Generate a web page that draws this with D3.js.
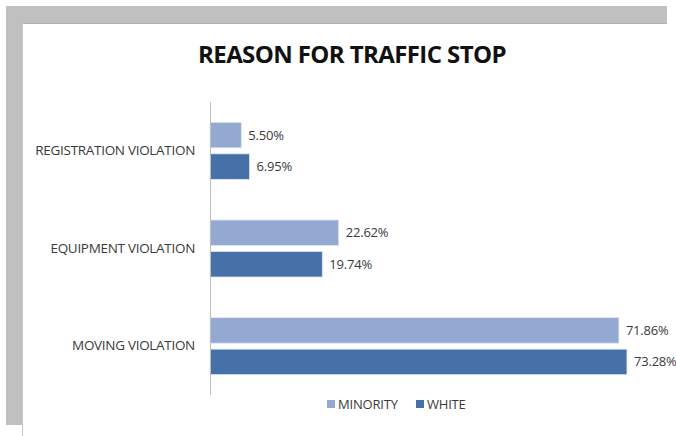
<!DOCTYPE html>
<html>
<head>
<meta charset="utf-8">
<script src="https://cdn.jsdelivr.net/npm/d3@7"></script>
<style>
  html, body { margin: 0; padding: 0; background: #ffffff; }
  svg { display: block; }
</style>
</head>
<body>
<svg id="chart" width="676" height="436"></svg>
<script>
const title = "REASON FOR TRAFFIC STOP";
const categories = ["REGISTRATION VIOLATION", "EQUIPMENT VIOLATION", "MOVING VIOLATION"];
const seriesNames = ["MINORITY", "WHITE"];
const minorityValues = [5.50, 22.62, 71.86];
const whiteValues = [6.95, 19.74, 73.28];
const seriesColors = ["#94a9d1", "#4571a8"];

const svg = d3.select("#chart");
const W = 676, H = 436;

// frame (gray page edge)
svg.append("rect").attr("x", 0).attr("y", 0).attr("width", W).attr("height", H).attr("fill", "#ffffff");
svg.append("rect").attr("x", 6).attr("y", 6).attr("width", 661).attr("height", 17).attr("fill", "#c0c0c0");
svg.append("rect").attr("x", 6).attr("y", 6).attr("width", 17).attr("height", 419).attr("fill", "#c0c0c0");
svg.append("line").attr("x1", 23).attr("x2", 667).attr("y1", 23.5).attr("y2", 23.5).attr("stroke", "#b0b0b0");
svg.append("line").attr("x1", 22.5).attr("x2", 22.5).attr("y1", 23).attr("y2", 436).attr("stroke", "#c8c8c8");

// title
svg.append("text")
  .attr("x", 352).attr("y", 63)
  .attr("text-anchor", "middle")
  .attr("font-family", "'Open Sans', 'Liberation Sans', sans-serif")
  .attr("font-weight", "bold")
  .attr("font-size", 24)
  .attr("letter-spacing", -0.6)
  .attr("fill", "#111111")
  .text(title);

const x = d3.scaleLinear().domain([0, 80]).range([210, 210 + 80 * 5.69]);
const y0 = d3.scaleBand().domain(categories).range([102, 395]).padding(0);
const y1 = d3.scaleBand().domain(seriesNames).range([0, 57]).paddingInner(0.19);

const rows = categories.map((c, i) => ({
  cat: c,
  vals: [
    { s: seriesNames[0], v: minorityValues[i], color: seriesColors[0] },
    { s: seriesNames[1], v: whiteValues[i], color: seriesColors[1] }
  ]
}));

const groups = svg.append("g").selectAll("g").data(rows).join("g")
  .attr("transform", d => `translate(0,${y0(d.cat) + y0.bandwidth() / 2 - 28.5})`);

groups.selectAll("rect").data(d => d.vals).join("rect")
  .attr("x", x(0))
  .attr("y", d => y1(d.s))
  .attr("width", d => x(d.v) - x(0))
  .attr("height", y1.bandwidth())
  .attr("fill", d => d.color)
  .attr("stroke", "#dfe6f2")
  .attr("stroke-width", 0.8);

groups.selectAll("text").data(d => d.vals).join("text")
  .attr("x", d => x(d.v) + 7)
  .attr("y", d => y1(d.s) + y1.bandwidth() / 2)
  .attr("dy", "0.35em")
  .attr("font-family", "'Open Sans', 'Liberation Sans', sans-serif")
  .attr("font-size", 13)
  .attr("letter-spacing", -0.2)
  .attr("fill", "#3a3a3a")
  .text(d => d.v.toFixed(2) + "%");

// category axis
const yAxis = d3.axisLeft(y0).tickSize(0).tickPadding(15);
const ag = svg.append("g").attr("transform", "translate(210,0)").call(yAxis);
ag.select(".domain").attr("stroke", "#bfbfbf").attr("d", "M0.5,102V395");
ag.selectAll("text")
  .attr("font-family", "'Open Sans', 'Liberation Sans', sans-serif")
  .attr("font-size", 13.5)
  .attr("letter-spacing", -0.3)
  .attr("fill", "#3a3a3a");

// legend
const legendItems = [
  { name: seriesNames[0], color: seriesColors[0], x: 327 },
  { name: seriesNames[1], color: seriesColors[1], x: 416 }
];
const lg = svg.append("g").selectAll("g").data(legendItems).join("g")
  .attr("transform", d => `translate(${d.x},404)`);
lg.append("rect").attr("x", 0).attr("y", -4).attr("width", 8).attr("height", 8).attr("fill", d => d.color);
lg.append("text")
  .attr("x", 11).attr("y", 0).attr("dy", "0.35em")
  .attr("font-family", "'Open Sans', 'Liberation Sans', sans-serif")
  .attr("font-size", 13)
  .attr("letter-spacing", -0.2)
  .attr("fill", "#3a3a3a")
  .text(d => d.name);
</script>
</body>
</html>
